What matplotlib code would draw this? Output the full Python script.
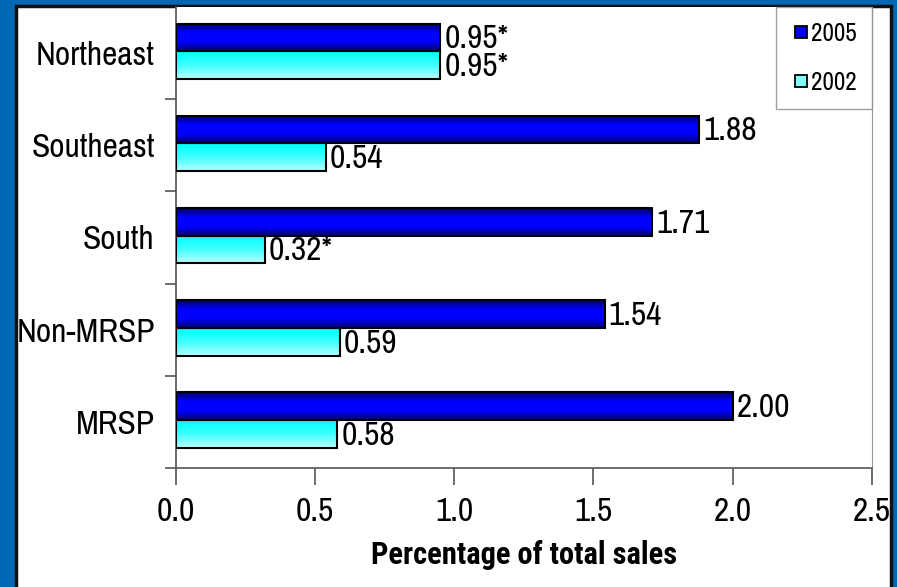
import matplotlib.pyplot as plt
import numpy as np
from matplotlib.colors import LinearSegmentedColormap
from matplotlib.patches import Rectangle
from matplotlib.lines import Line2D

plt.rcParams['font.family'] = ['Liberation Sans Narrow', 'Archivo Narrow', 'DejaVu Sans']
bold_family = ['Liberation Sans Narrow', 'Roboto Condensed', 'Barlow Semi Condensed', 'DejaVu Sans']

regions = ['MRSP', 'Non-MRSP', 'South', 'Southeast', 'Northeast']
vals_2005 = [2.00, 1.54, 1.71, 1.88, 0.95]
vals_2002 = [0.58, 0.59, 0.32, 0.54, 0.95]
labels_2005 = ['2.00', '1.54', '1.71', '1.88', '0.95*']
labels_2002 = ['0.58', '0.59', '0.32*', '0.54', '0.95*']
xticks = [0.0, 0.5, 1.0, 1.5, 2.0, 2.5]

W, H = 897, 587
fig = plt.figure(figsize=(W / 100, H / 100), dpi=100)
fig.patch.set_facecolor('#0068b4')

# white panel with dark border
panel = Rectangle((16 / W, -0.01), (891 - 16) / W, (H - 6) / H + 0.01,
                  transform=fig.transFigure, facecolor='white',
                  edgecolor='#111111', linewidth=2.5, zorder=-5)
fig.patches.append(panel)

ax = fig.add_axes([175.5 / W, 1 - 468 / H, (872 - 175.5) / W, (468 - 7) / H])
ax.set_zorder(2)
ax.set_facecolor('white')

y = np.arange(len(regions))
h = 0.30
blue_cmap = LinearSegmentedColormap.from_list('b', ['#000070', '#0000ff', '#0000ff', '#000060'])
cyan_cmap = LinearSegmentedColormap.from_list('c', ['#b8ffff', '#40ffff', '#00ffff'])

def grad_bars(ypos, vals, cmap):
    bars = ax.barh(ypos, vals, height=h, color='none', edgecolor='black',
                   linewidth=1.5, zorder=3)
    grad = np.linspace(0, 1, 64).reshape(-1, 1)
    for b in bars:
        x0, y0 = b.get_x(), b.get_y()
        im = ax.imshow(grad, cmap=cmap, aspect='auto', origin='lower',
                       extent=[x0, x0 + b.get_width(), y0, y0 + b.get_height()],
                       zorder=2)
        im.set_clip_path(b)
    return bars

b05 = grad_bars(y + h / 2 + 0.02, vals_2005, blue_cmap)
b02 = grad_bars(y - h / 2 + 0.02, vals_2002, cyan_cmap)

for bars, labs in ((b05, labels_2005), (b02, labels_2002)):
    for b, lab in zip(bars, labs):
        ax.text(b.get_width() + 0.015, b.get_y() + b.get_height() / 2 - 0.02, lab,
                va='center', ha='left', fontsize=24, zorder=4)

ax.set_xlim(0, 2.5)
ax.set_ylim(-0.5, len(regions) - 0.5)
ax.set_xticks(xticks)
ax.set_xticklabels(['%.1f' % t for t in xticks], fontsize=24)
ax.set_yticks(y)
ax.set_yticklabels(regions, fontsize=24)
ax.set_yticks(np.arange(-0.5, len(regions) - 0.5, 1.0), minor=True)
ax.tick_params(axis='y', which='major', length=0, pad=15)
ax.tick_params(axis='y', which='minor', length=8, width=1.2, color='#555555')
ax.tick_params(axis='x', length=12, width=1.2, color='#555555', pad=9)
ax.set_xlabel('Percentage of total sales', fontsize=22, fontweight='bold',
              family=bold_family, labelpad=9)

ax.spines['top'].set_visible(False)
ax.spines['right'].set_color('#999999')
ax.spines['left'].set_color('#555555')
ax.spines['bottom'].set_color('#555555')
ax.spines['left'].set_linewidth(1.2)
ax.spines['bottom'].set_linewidth(1.2)

handles = [Line2D([], [], marker='s', linestyle='none', markersize=9,
                  markerfacecolor='#0000ee', markeredgecolor='black', markeredgewidth=1.3),
           Line2D([], [], marker='s', linestyle='none', markersize=9,
                  markerfacecolor='#80ffff', markeredgecolor='black', markeredgewidth=1.3)]
leg = ax.legend(handles, ['2005', '2002'], loc='upper right', fontsize=18,
                frameon=True, fancybox=False, edgecolor='#888888',
                borderaxespad=0.0, handletextpad=0.0, labelspacing=1.05,
                handlelength=0.8, borderpad=0.6, bbox_to_anchor=(0.9995, 1.0))
leg.get_frame().set_linewidth(1.0)

fig.savefig('out.png', dpi=100, facecolor=fig.get_facecolor())
